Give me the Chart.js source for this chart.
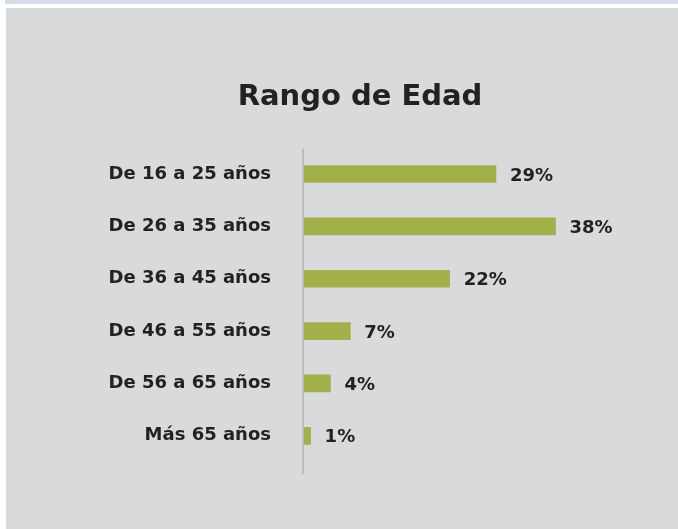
<!DOCTYPE html>
<html>
<head>
<meta charset="utf-8">
<script src="https://cdn.jsdelivr.net/npm/chart.js@4/dist/chart.umd.min.js"></script>
<style>
  html, body { margin: 0; padding: 0; background: #ffffff; }
  #topStrip { position: absolute; left: 5px; top: 0; width: 673px; height: 4px; background: #d6dde8; }
  #panel { position: absolute; left: 6px; top: 8px; width: 672px; height: 521px; background: #d9dadc; }
</style>
</head>
<body>
<div id="topStrip"></div>
<div id="panel"><canvas id="ageChart" width="672" height="521"></canvas></div>
<script>
const categories = ["De 16 a 25 años", "De 26 a 35 años", "De 36 a 45 años", "De 46 a 55 años", "De 56 a 65 años", "Más 65 años"];
const percentages = [29, 38, 22, 7, 4, 1];
const chartTitle = "Rango de Edad";

const textColor = '#222222';
const barColor = '#a3b04a';
const fontFamily = "'DejaVu Sans', sans-serif";

// axis line on the left, a bit longer than the bars area
const axisLine = {
    id: 'axisLine',
    beforeDatasetsDraw(chart) {
        const area = chart.chartArea;
        const ctx = chart.ctx;
        ctx.save();
        ctx.strokeStyle = '#bcbcbc';
        ctx.lineWidth = 2;
        ctx.beginPath();
        ctx.moveTo(area.left - 1, area.top + 1);
        ctx.lineTo(area.left - 1, area.bottom + 12);
        ctx.stroke();
        ctx.restore();
    }
};

// percent labels after each bar
const valueLabels = {
    id: 'valueLabels',
    afterDatasetsDraw(chart) {
        const ctx = chart.ctx;
        const meta = chart.getDatasetMeta(0);
        ctx.save();
        ctx.fillStyle = textColor;
        ctx.font = "bold 18px " + fontFamily;
        ctx.textAlign = 'left';
        ctx.textBaseline = 'middle';
        meta.data.forEach(function (bar, i) {
            ctx.fillText(percentages[i] + '%', bar.x + 14, bar.y + 2);
        });
        ctx.restore();
    }
};

const data = {
    labels: categories,
    datasets: [{
        data: percentages,
        backgroundColor: barColor,
        borderWidth: 0,
        barThickness: 17
    }]
};

const config = {
    type: 'bar',
    data: data,
    options: {
        indexAxis: 'y',
        responsive: false,
        animation: false,
        layout: {
            padding: { top: 0, left: 36, right: 0, bottom: 67 }
        },
        plugins: {
            legend: { display: false },
            tooltip: { enabled: false },
            title: {
                display: true,
                text: chartTitle,
                color: textColor,
                font: { family: fontFamily, size: 29, weight: 'bold', lineHeight: 1.2 },
                padding: { top: 72, bottom: 33 }
            }
        },
        scales: {
            x: {
                display: false,
                min: 0,
                max: 56.5
            },
            y: {
                afterFit: function (scale) { scale.width = 262; },
                border: { display: false },
                grid: { display: false, drawTicks: false },
                ticks: {
                    color: textColor,
                    padding: 33,
                    font: { family: fontFamily, size: 18, weight: 'bold' }
                }
            }
        }
    },
    plugins: [axisLine, valueLabels]
};

new Chart(document.getElementById('ageChart'), config);
</script>
</body>
</html>
